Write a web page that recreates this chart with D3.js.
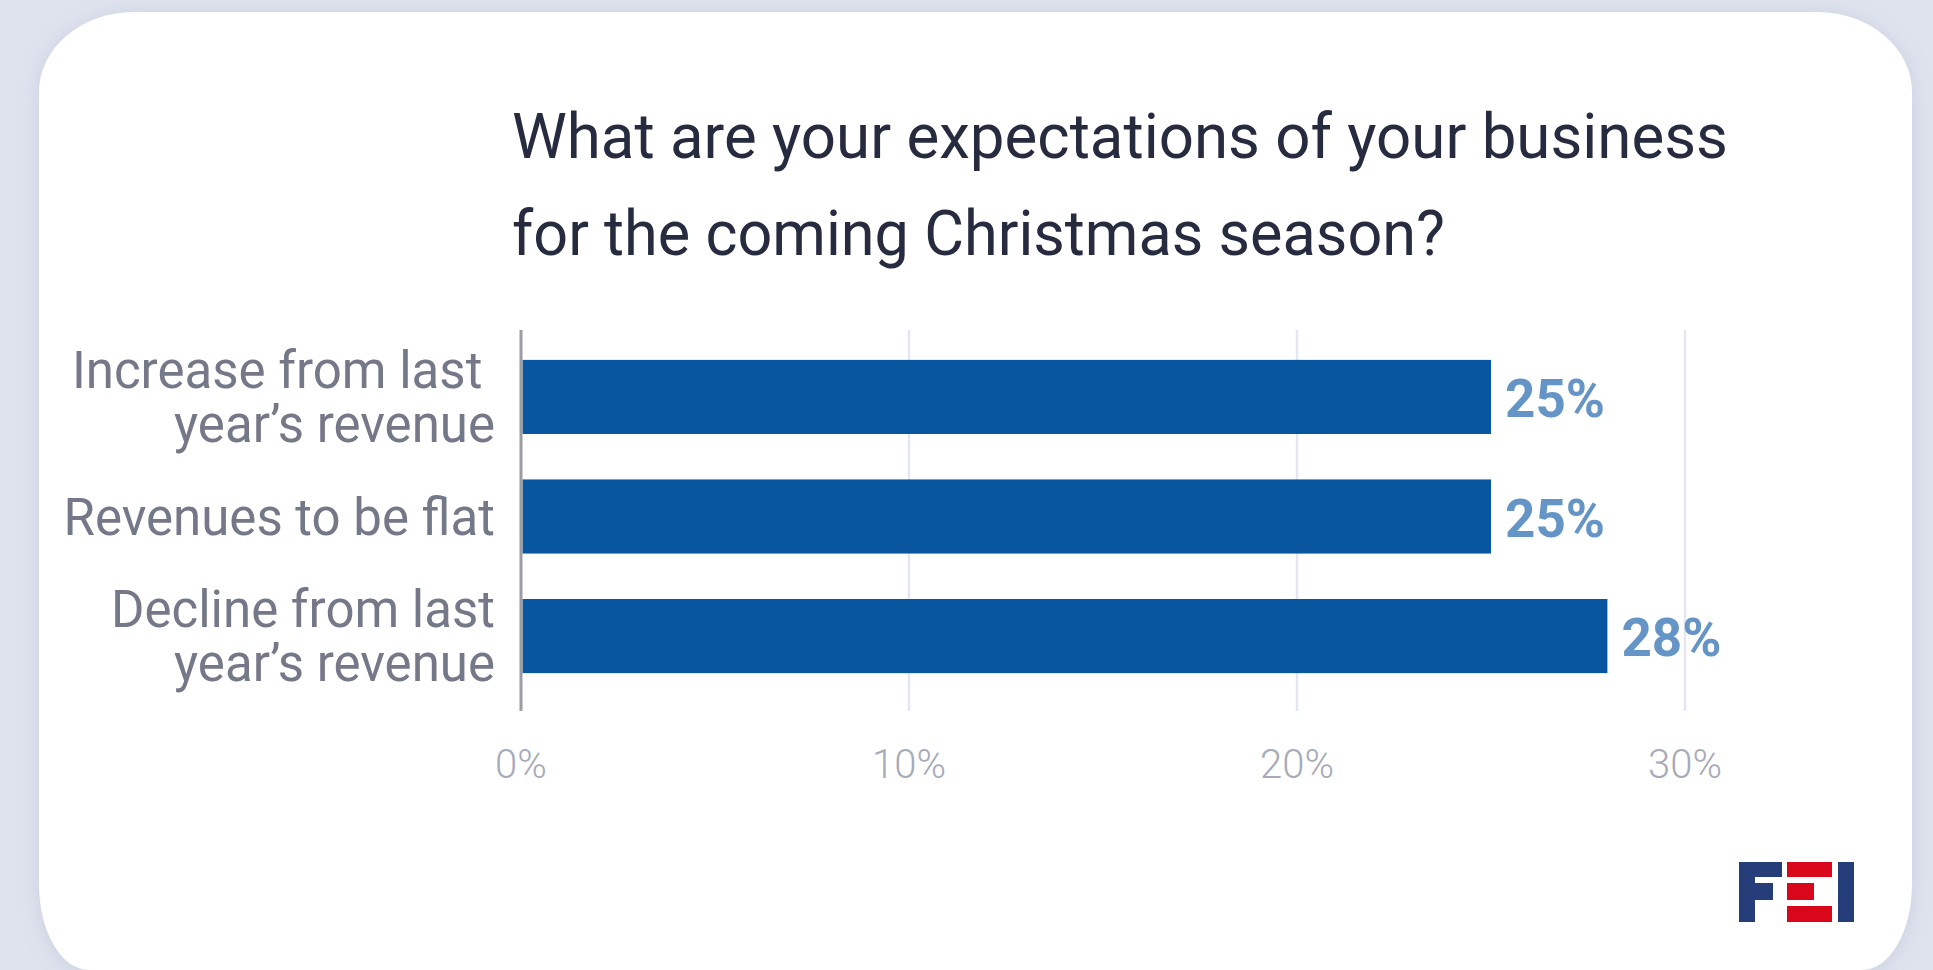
<!DOCTYPE html>
<html>
<head>
<meta charset="utf-8">
<script src="https://cdn.jsdelivr.net/npm/d3@7/dist/d3.min.js"></script>
<style>
  html, body { margin: 0; padding: 0; background: #dfe3ee; overflow: hidden; }
  svg { display: block; }
  .cat { white-space: pre; }
</style>
</head>
<body>
<svg id="chart" width="1933" height="970"></svg>
<script>
// Survey data
const titleLines = ["What are your expectations of your business", "for the coming Christmas season?"];
const categories = ["Increase from last \nyear\u2019s revenue", "Revenues to be flat", "Decline from last\nyear\u2019s revenue"];
const values = [25, 25, 28];
const tickValues = [0, 10, 20, 30];

const W = 1933, H = 970;
const svg = d3.select("#chart");

// Background and card
const defs = svg.append("defs");
const f = defs.append("filter").attr("id", "shadow").attr("x", "-5%").attr("y", "-5%").attr("width", "110%").attr("height", "110%");
f.append("feDropShadow").attr("dx", 0).attr("dy", 2).attr("stdDeviation", 10)
  .attr("flood-color", "#8a93b5").attr("flood-opacity", 0.25);

svg.append("rect").attr("width", W).attr("height", H).attr("fill", "#dfe3ee");

function cardPath(x0, y0, x1, y1, rtx, rty, rbx, rby) {
  return `M${x0 + rtx},${y0} L${x1 - rtx},${y0} A${rtx},${rty} 0 0 1 ${x1},${y0 + rty}
    L${x1},${y1 - rby} A${rbx},${rby} 0 0 1 ${x1 - rbx},${y1}
    L${x0 + rbx},${y1} A${rbx},${rby} 0 0 1 ${x0},${y1 - rby}
    L${x0},${y0 + rty} A${rtx},${rty} 0 0 1 ${x0 + rtx},${y0} Z`;
}
svg.append("path")
  .attr("d", cardPath(39, 12, 1912, 970, 95, 80, 50, 86))
  .attr("fill", "#ffffff")
  .attr("filter", "url(#shadow)");

// Title
const title = svg.append("g").attr("fill", "#272b40")
  .style("font-family", "Roboto, sans-serif").style("font-size", "63px");
const titleWidths = [1216, 933];
titleLines.forEach((t, i) => {
  title.append("text")
    .attr("x", 512).attr("y", 158 + i * 97)
    .attr("textLength", titleWidths[i])
    .attr("lengthAdjust", "spacingAndGlyphs")
    .text(t);
});

// Scales
const x = d3.scaleLinear().domain([0, 30]).range([521, 1685]);
const y = d3.scaleBand().domain(categories).range([330, 703]).paddingInner(0.38).paddingOuter(0.25);

// Gridlines
svg.append("g").selectAll("line").data(tickValues.filter(d => d > 0)).join("line")
  .attr("x1", d => x(d)).attr("x2", d => x(d))
  .attr("y1", 330).attr("y2", 711)
  .attr("stroke", "#e4e7f2").attr("stroke-width", 2.5);

// Tick labels
svg.append("g").selectAll("text").data(tickValues).join("text")
  .attr("x", d => x(d)).attr("y", 778)
  .attr("text-anchor", "middle")
  .attr("fill", "#a7aab9")
  .style("font-family", "Roboto, sans-serif").style("font-weight", 300).style("font-size", "40px")
  .text(d => d + "%");

// Bars
svg.append("g").selectAll("rect").data(values).join("rect")
  .attr("x", x(0) + 1.5)
  .attr("y", (d, i) => y(categories[i]))
  .attr("width", d => x(d) - x(0) - 1.5)
  .attr("height", y.bandwidth())
  .attr("fill", "#08569f");

// Axis line
svg.append("line")
  .attr("x1", x(0)).attr("x2", x(0)).attr("y1", 330).attr("y2", 711)
  .attr("stroke", "#9c9ca4").attr("stroke-width", 3);

// Value labels
svg.append("g").selectAll("text").data(values).join("text")
  .attr("x", d => x(d) + 14)
  .attr("y", (d, i) => y(categories[i]) + y.bandwidth() / 2 + 20)
  .attr("fill", "#6595c6")
  .style("font-family", "Roboto, sans-serif").style("font-weight", 700).style("font-size", "53px")
  .text(d => d + "%");

// Category labels
const catG = svg.append("g").attr("fill", "#747888")
  .style("font-family", "Roboto, sans-serif").style("font-size", "51px");
categories.forEach(c => {
  const lines = c.split("\n");
  const cy = y(c) + y.bandwidth() / 2;
  const t = catG.append("text").attr("class", "cat").attr("text-anchor", "end");
  lines.forEach((ln, j) => {
    t.append("tspan").attr("x", 495)
      .attr("y", cy + 18 + (j - (lines.length - 1) / 2) * 54)
      .text(ln);
  });
});

// FEI mark
const logo = svg.append("g");
const blue = "#253d79", red = "#d9071a";
[[1739, 862, 16, 60], [1739, 862, 43, 15], [1739, 883, 34, 17]].forEach(r =>
  logo.append("rect").attr("x", r[0]).attr("y", r[1]).attr("width", r[2]).attr("height", r[3]).attr("fill", blue));
[[1787, 862, 45, 15], [1787, 883, 27, 17], [1787, 906, 45, 16]].forEach(r =>
  logo.append("rect").attr("x", r[0]).attr("y", r[1]).attr("width", r[2]).attr("height", r[3]).attr("fill", red));
logo.append("rect").attr("x", 1838).attr("y", 862).attr("width", 16).attr("height", 60).attr("fill", blue);
</script>
</body>
</html>
